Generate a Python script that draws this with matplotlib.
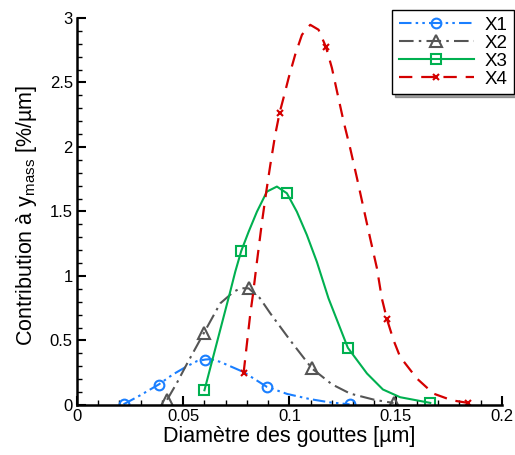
import matplotlib
matplotlib.use("Agg")
import matplotlib.pyplot as plt
from matplotlib.ticker import MultipleLocator, FormatStrFormatter

plt.rcParams['font.family'] = ['Liberation Sans', 'DejaVu Sans']
plt.rcParams['mathtext.fontset'] = 'custom'
plt.rcParams['mathtext.rm'] = 'Liberation Sans'

# values
x1_d = [0.0219, 0.0298, 0.0384, 0.0450, 0.0518, 0.0565, 0.0604, 0.0630, 0.0674, 0.0783, 0.0894, 0.0990, 0.1098, 0.1190, 0.1283]
x1_c = [0.005, 0.075, 0.158, 0.235, 0.300, 0.340, 0.352, 0.355, 0.334, 0.256, 0.140, 0.085, 0.045, 0.020, 0.005]
x1_marks = [0, 2, 6, 10, 14]

x2_d = [0.0424, 0.0470, 0.0518, 0.0596, 0.0674, 0.0737, 0.0770, 0.0808, 0.0860, 0.0910, 0.1004, 0.1106, 0.1200, 0.1286, 0.1400, 0.1490]
x2_c = [0.040, 0.170, 0.320, 0.554, 0.787, 0.877, 0.905, 0.904, 0.830, 0.710, 0.500, 0.283, 0.160, 0.088, 0.040, 0.015]
x2_marks = [0, 3, 7, 11, 15]

x3_d = [0.0600, 0.0685, 0.0721, 0.0745, 0.0773, 0.0808, 0.0847, 0.0894, 0.0941, 0.0988, 0.1035, 0.1082,
        0.1129, 0.1184, 0.1275, 0.1365, 0.1440, 0.1521, 0.1663]
x3_c = [0.114, 0.650, 0.877, 1.033, 1.193, 1.343, 1.498, 1.654, 1.693, 1.641, 1.498, 1.318,
        1.110, 0.826, 0.443, 0.244, 0.120, 0.060, 0.016]
x3_marks = [0, 4, 9, 14, 18]

x4_d = [0.0784, 0.0816, 0.0828, 0.0847, 0.0871, 0.0891, 0.0910, 0.0933, 0.0954, 0.0972, 0.0996, 0.1027,
        0.1059, 0.1098, 0.1137, 0.1172, 0.1200, 0.1224, 0.1255, 0.1286, 0.1318, 0.1349, 0.1380, 0.1412,
        0.1435, 0.1459, 0.1490, 0.1521, 0.1600, 0.1678, 0.1765, 0.1840]
x4_c = [0.244, 0.710, 0.852, 1.110, 1.421, 1.654, 1.861, 2.094, 2.267, 2.379, 2.534, 2.715,
        2.870, 2.947, 2.909, 2.775, 2.612, 2.430, 2.197, 1.990, 1.758, 1.525, 1.292, 1.059,
        0.826, 0.665, 0.502, 0.373, 0.205, 0.088, 0.036, 0.016]
x4_marks = [0, 8, 15, 25, 31]

fig = plt.figure(figsize=(5.15, 4.55), dpi=100)
ax = fig.add_axes([0.1495, 0.110, 0.825, 0.8505])

ax.plot(x1_d, x1_c, color='#1a7fff', lw=1.5, dashes=(6, 2, 1.2, 2, 1.2, 2),
        marker='o', ms=7, mfc='none', mew=1.5, markevery=x1_marks, label='X1')
ax.plot(x2_d, x2_c, color='#555555', lw=1.5, dashes=(7, 2.5, 1.2, 2.5),
        marker='^', ms=8, mfc='none', mew=1.5, markevery=x2_marks, label='X2')
ax.plot(x3_d, x3_c, color='#00b050', lw=1.5, ls='-',
        marker='s', ms=7, mfc='none', mew=1.5, markevery=x3_marks, label='X3')
ax.plot(x4_d, x4_c, color='#d40000', lw=1.6, dashes=(6, 4),
        marker='x', ms=5, mew=1.5, markevery=x4_marks, label='X4')

ax.set_xlim(0, 0.2)
ax.set_ylim(0, 3)
ax.xaxis.set_major_locator(MultipleLocator(0.05))
ax.xaxis.set_minor_locator(MultipleLocator(0.01))
ax.yaxis.set_major_locator(MultipleLocator(0.5))
ax.yaxis.set_minor_locator(MultipleLocator(0.1))
ax.xaxis.set_major_formatter(FormatStrFormatter('%g'))
ax.yaxis.set_major_formatter(FormatStrFormatter('%g'))

for s in ['top', 'right']:
    ax.spines[s].set_visible(False)
for s in ['left', 'bottom']:
    ax.spines[s].set_linewidth(1.8)
ax.tick_params(which='major', direction='in', length=6.5, width=1.5, labelsize=12, pad=3)
ax.tick_params(which='minor', direction='in', length=3.5, width=1.0)

ax.set_xlabel('Diamètre des gouttes [µm]', fontsize=15.5, labelpad=1)
ax.set_ylabel(r'Contribution à y$_{\rm mass}$ [%/µm]', fontsize=15.5)
ax.yaxis.set_label_coords(-0.09, 0.49)

leg = fig.legend(loc='upper right', bbox_to_anchor=(0.999, 0.978), fontsize=13.5,
                 frameon=True, fancybox=False, shadow=True, handlelength=4.0,
                 labelspacing=0.05, borderpad=0.35, handletextpad=0.6, borderaxespad=0)
leg.get_frame().set_edgecolor('black')
leg.get_frame().set_linewidth(1.0)

fig.savefig('out.png', dpi=100)
